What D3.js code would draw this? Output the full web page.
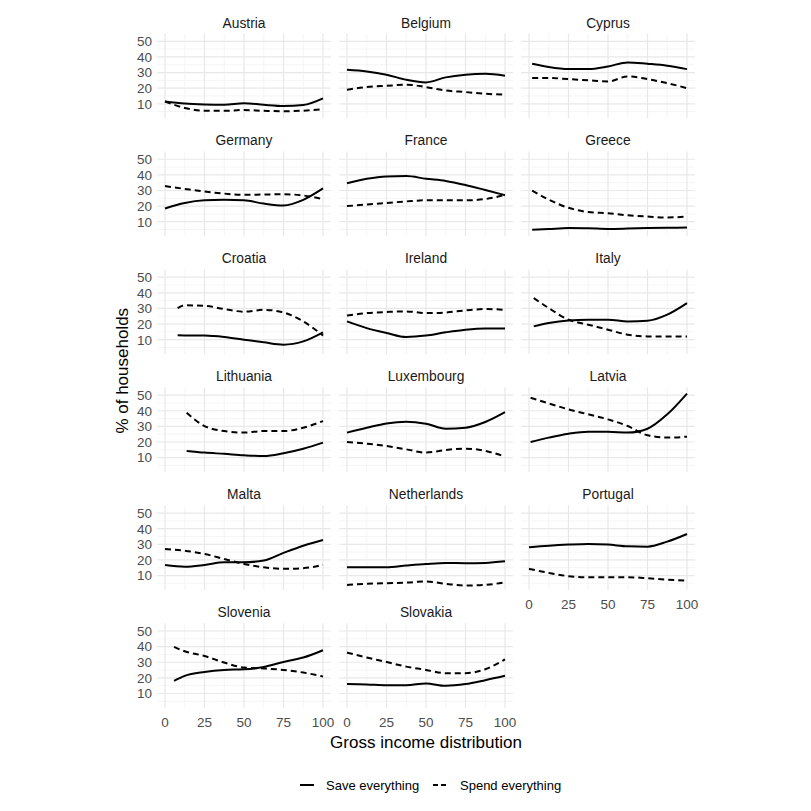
<!DOCTYPE html>
<html><head><meta charset="utf-8">
<script src="https://cdn.jsdelivr.net/npm/d3@7"></script>
<style>body{margin:0;background:#fff}svg{display:block}</style>
</head><body><svg id="c" width="811" height="811"></svg>
<script>
const countries = ["Austria","Belgium","Cyprus","Germany","France","Greece","Croatia","Ireland","Italy","Lithuania","Luxembourg","Latvia","Malta","Netherlands","Portugal","Slovenia","Slovakia"];
const xGrid = [0,12.5,25,37.5,50,62.5,75,87.5,100];
const startX = [0,0,2,0,0,2,8,0,3,13.7,0,1,0,0,0,5.7,0];
const saveValues = [
  [11.5,10.2,9.6,9.4,10.4,9.3,8.5,9.2,13.5],
  [31.8,30.7,28.6,25.4,23.7,26.9,28.6,29.2,28],
  [35.6,33.5,32.2,32.2,33.9,36.5,35.6,34.4,32.2],
  [18.5,22,23.7,24,23.7,21.6,20.4,24,31.3],
  [34.6,37.5,39,39.2,37.5,36.1,33.5,30.3,27],
  [4.8,5.3,5.9,5.8,5.4,5.6,5.9,6.1,6.3],
  [12.8,12.7,12.6,11.7,10,8.3,6.8,8.9,14.7],
  [21.7,17.4,14.3,11.7,12.6,14.7,16.4,17.2,17.2],
  [18.5,20.6,22.3,22.8,22.8,21.7,22.1,26,33.4],
  [14.3,13.2,12.4,11.5,11,12.8,15.7,19.6],
  [26,29.1,31.9,33,31.7,28.5,29.1,32.8,39.1],
  [20,22.8,25.3,26.6,26.6,26,28.5,37.7,51],
  [16.8,15.7,16.8,18.5,18.5,19.6,24.5,29.1,32.8],
  [15.3,15.3,15.3,16.4,17.4,18.1,17.9,18.1,19.1],
  [28.1,29.1,29.8,30.2,29.8,28.7,28.5,31.7,36.6],
  [18.1,21.3,23.8,25.1,25.5,27,30.2,33,37.7],
  [16,15.8,15.3,15.3,16.4,14.9,16,18.5,21.3]
];
const spendValues = [
  [11.5,7.3,5.5,5.5,6,5.5,5.2,5.6,6.5],
  [19,20.7,21.5,22.2,20.7,18.5,17.5,16.4,15.8],
  [26.5,26.5,25.8,25,24.3,27.5,25.8,23.2,20],
  [32.8,31,29.3,28,27.2,27.4,27.6,26.8,24.5],
  [20,21,22,23,23.7,23.7,23.7,24.5,27.2],
  [29.9,24.1,18.9,16.2,15.4,14.1,13.3,12.7,13.3],
  [30.2,32,31.7,29.6,27.9,29.1,27.4,21.7,12.6],
  [25.5,27,27.7,28.1,27,27.4,28.7,29.6,29.1],
  [36.6,30.2,22.8,19.6,16.4,13.2,12.1,12.1,12.1],
  [38.7,30.2,27,26,27,27,29.1,33.4],
  [20,18.9,17.4,15.3,13.2,14.9,15.7,14.3,10.6],
  [48.3,44.7,40.9,37.7,34.5,30.2,24.3,22.8,23.4],
  [27,25.9,23.8,20.6,17.4,15.3,14.3,14.7,16.8],
  [4,4.7,5.1,5.5,6.2,4.7,3.6,4,5.7],
  [14.3,11.7,9.6,8.9,8.9,8.9,8.3,7.4,6.8],
  [39.8,37,34,29.8,26.6,26,25.1,23.4,20.9],
  [36.2,33,30.2,27.2,25.1,23,23,25.5,31.9]
];
const xTicks = [0,25,50,75,100];
const yTicks = [10,20,30,40,50];
const seriesNames = ["Save everything","Spend everything"];

const svg = d3.select("#c");
const font = "Liberation Sans, Arial, sans-serif";
const colStep = 182, left0 = 157.1, pw = 173.8;
const rowStep = 117.94, top0 = 33.5, ph = 84.8;

const x = d3.scaleLinear().domain([-5,105]).range([0,pw]);
const y = d3.scaleLinear().domain([0.7,55]).range([ph,0]);
const xMinor = [12.5,37.5,62.5,87.5];
const yMinor = [5,15,25,35,45];
const line = d3.line().x(d=>x(d[0])).y(d=>y(d[1])).curve(d3.curveMonotoneX);

countries.forEach((name,i)=>{
  const col = i%3, row = Math.floor(i/3);
  const g = svg.append("g").attr("transform",`translate(${left0+col*colStep},${top0+row*rowStep})`);
  g.selectAll(".vm").data(xMinor).join("line").attr("x1",d=>x(d)).attr("x2",d=>x(d)).attr("y1",0).attr("y2",ph).attr("stroke","#f1f1f1").attr("stroke-width",0.7);
  g.selectAll(".hm").data(yMinor).join("line").attr("x1",0).attr("x2",pw).attr("y1",d=>y(d)).attr("y2",d=>y(d)).attr("stroke","#f1f1f1").attr("stroke-width",0.7);
  g.selectAll(".vM").data(xTicks).join("line").attr("x1",d=>x(d)).attr("x2",d=>x(d)).attr("y1",0).attr("y2",ph).attr("stroke","#e8e8e8").attr("stroke-width",1.2);
  g.selectAll(".hM").data(yTicks).join("line").attr("x1",0).attr("x2",pw).attr("y1",d=>y(d)).attr("y2",d=>y(d)).attr("stroke","#e8e8e8").attr("stroke-width",1.2);
  g.append("text").attr("x",pw/2).attr("y",-6).attr("text-anchor","middle").attr("font-family",font).attr("font-size",13.8).attr("fill","#1a1a1a").text(name);
  if(col===0){
    g.selectAll(".yl").data(yTicks).join("text").attr("x",-5).attr("y",d=>y(d)).attr("dy","0.36em").attr("text-anchor","end").attr("font-family",font).attr("font-size",13.5).attr("fill","#4d4d4d").text(d=>d);
  }
  const lastInCol = (i+3 >= countries.length);
  if(lastInCol){
    g.selectAll(".xl").data(xTicks).join("text").attr("x",d=>x(d)).attr("y",ph+14).attr("dy","0.36em").attr("text-anchor","middle").attr("font-family",font).attr("font-size",13.5).attr("fill","#4d4d4d").text(d=>d);
  }
  const xs = [startX[i], ...xGrid.filter(v=>v>startX[i])];
  const sv = xs.map((xv,k)=>[xv,saveValues[i][k]]);
  const sp = xs.map((xv,k)=>[xv,spendValues[i][k]]);
  g.append("path").attr("d",line(sp)).attr("fill","none").attr("stroke","#000").attr("stroke-width",2).attr("stroke-dasharray","6,4");
  g.append("path").attr("d",line(sv)).attr("fill","none").attr("stroke","#000").attr("stroke-width",2);
});

svg.append("text").attr("x",left0+(2*colStep+pw)/2).attr("y",748).attr("text-anchor","middle").attr("font-family",font).attr("font-size",17).attr("fill","#000").text("Gross income distribution");
svg.append("text").attr("transform",`translate(128,${top0+(5*rowStep+ph)/2}) rotate(-90)`).attr("text-anchor","middle").attr("font-family",font).attr("font-size",17).attr("fill","#000").text("% of households");

const lg = svg.append("g").attr("transform","translate(0,785)");
const keys = [{x:300,tx:326,dash:null},{x:433,tx:460,dash:"5,3"}];
keys.forEach((k,j)=>{
  lg.append("line").attr("x1",k.x).attr("x2",k.x+14).attr("y1",0).attr("y2",0).attr("stroke","#000").attr("stroke-width",2).attr("stroke-dasharray",k.dash);
  lg.append("text").attr("x",k.tx).attr("y",0).attr("dy","0.36em").attr("font-family",font).attr("font-size",13).attr("fill","#000").text(seriesNames[j]);
});
</script></body></html>
